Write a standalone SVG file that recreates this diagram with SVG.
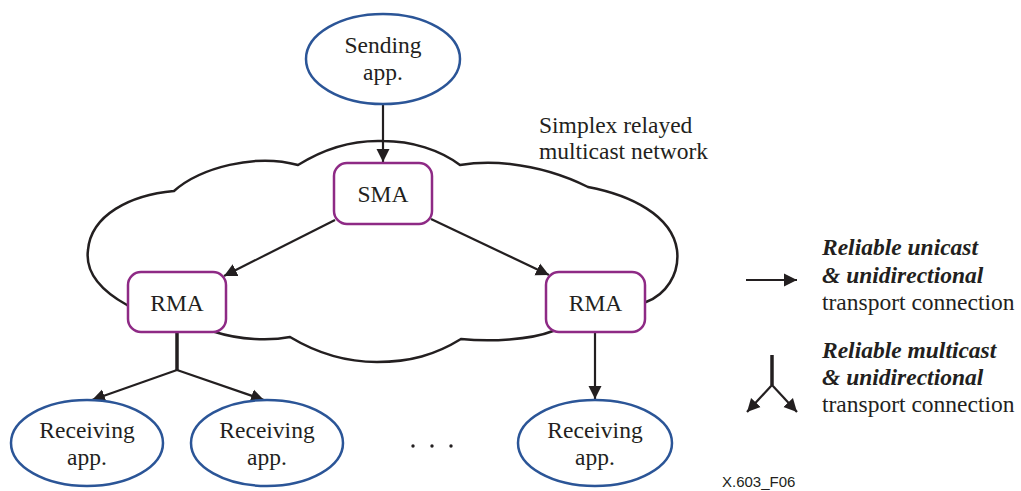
<svg xmlns="http://www.w3.org/2000/svg" width="1021" height="491" viewBox="0 0 1021 491">
<style>
.app{fill:#fff;stroke:#2b5597;stroke-width:2.5}
.agent{fill:#fff;stroke:#8e2a85;stroke-width:2.5}
.t{font-family:'Liberation Serif','Times New Roman',Times,'DejaVu Serif',serif;font-size:23.5px;fill:#231f20}
.c{text-anchor:middle}
.bi{font-weight:bold;font-style:italic}
.cloud{fill:none;stroke:#231f20;stroke-width:2.5}
.ln{fill:none;stroke:#231f20;stroke-width:2.2}
.stem{fill:none;stroke:#231f20;stroke-width:3.5}
.fig{font-family:'Liberation Sans',Arial,sans-serif;font-size:15px;fill:#231f20}
</style>
<defs>
<marker id="ah" markerUnits="userSpaceOnUse" markerWidth="14" markerHeight="14" viewBox="0 0 14 14" refX="13" refY="7" orient="auto">
<path d="M0,0.5 L13,7 L0,13.5 Z" fill="#231f20"/>
</marker>
</defs>

<g id="cloud">
<path class="cloud" d="M127,305 C100,290 85,272 88,250 C91,215 130,195 174,191 C200,168 255,153 298,165 C325,148 355,140 383,141 C412,141 440,150 460,165 C478,162 492,162 510,164 C545,168 570,178 588,187 C630,195 672,215 677,250 C680,275 665,295 646,302 L553,331 C530,340 490,342 461,339 C435,355 410,362 377,362 C345,362 315,352 290,337 C270,341 240,340 215,332 Z"/>
<text class="t" font-family="Liberation Serif, serif" x="539" y="133">Simplex relayed</text>
<text class="t" font-family="Liberation Serif, serif" x="539" y="159">multicast network</text>
</g>

<g id="connectors">
<line class="ln" x1="383" y1="104" x2="383" y2="162" marker-end="url(#ah)"/>
<line class="ln" x1="335" y1="220" x2="224" y2="276" marker-end="url(#ah)"/>
<line class="ln" x1="431" y1="219" x2="549" y2="275" marker-end="url(#ah)"/>
<line class="stem" x1="177" y1="332" x2="177" y2="370"/>
<line class="ln" x1="177" y1="370" x2="92" y2="400" marker-end="url(#ah)"/>
<line class="ln" x1="177" y1="370" x2="264" y2="400" marker-end="url(#ah)"/>
<line class="ln" x1="595" y1="332" x2="595" y2="399" marker-end="url(#ah)"/>
</g>

<g id="sending">
<ellipse class="app" cx="383" cy="59" rx="77" ry="45"/>
<text class="t c" x="383" y="53">Sending</text>
<text class="t c" x="383" y="80">app.</text>
</g>

<g id="sma">
<rect class="agent" x="334" y="163" width="98" height="61" rx="13"/>
<text class="t c" x="383" y="202">SMA</text>
</g>

<g id="rma-left">
<rect class="agent" x="128" y="272" width="98" height="60" rx="13"/>
<text class="t c" x="177" y="311">RMA</text>
</g>

<g id="rma-right">
<rect class="agent" x="546" y="272" width="99" height="60" rx="13"/>
<text class="t c" x="595.5" y="311">RMA</text>
</g>

<g id="recv1">
<ellipse class="app" cx="87" cy="443" rx="76" ry="43"/>
<text class="t c" x="87" y="438">Receiving</text>
<text class="t c" x="87" y="465">app.</text>
</g>

<g id="recv2">
<ellipse class="app" cx="267" cy="443" rx="76" ry="43"/>
<text class="t c" x="267" y="438">Receiving</text>
<text class="t c" x="267" y="465">app.</text>
</g>

<g id="dots" fill="#231f20">
<circle cx="413" cy="446" r="1.7"/>
<circle cx="432" cy="446" r="1.7"/>
<circle cx="451" cy="446" r="1.7"/>
</g>

<g id="recv3">
<ellipse class="app" cx="595" cy="443" rx="77" ry="43"/>
<text class="t c" x="595" y="438">Receiving</text>
<text class="t c" x="595" y="465">app.</text>
</g>

<g id="legend-unicast">
<line class="ln" x1="746" y1="280" x2="797" y2="280" marker-end="url(#ah)"/>
<text class="t bi" x="822" y="255">Reliable unicast</text>
<text class="t bi" x="822" y="283">&amp; unidirectional</text>
<text class="t" x="822" y="310">transport connection</text>
</g>

<g id="legend-multicast">
<line class="stem" x1="772" y1="355" x2="772" y2="385"/>
<line class="ln" x1="772" y1="385" x2="747" y2="412" marker-end="url(#ah)"/>
<line class="ln" x1="772" y1="385" x2="797" y2="412" marker-end="url(#ah)"/>
<text class="t bi" x="822" y="358">Reliable multicast</text>
<text class="t bi" x="822" y="385">&amp; unidirectional</text>
<text class="t" x="822" y="412">transport connection</text>
</g>

<text class="fig" x="722" y="487">X.603_F06</text>
</svg>
